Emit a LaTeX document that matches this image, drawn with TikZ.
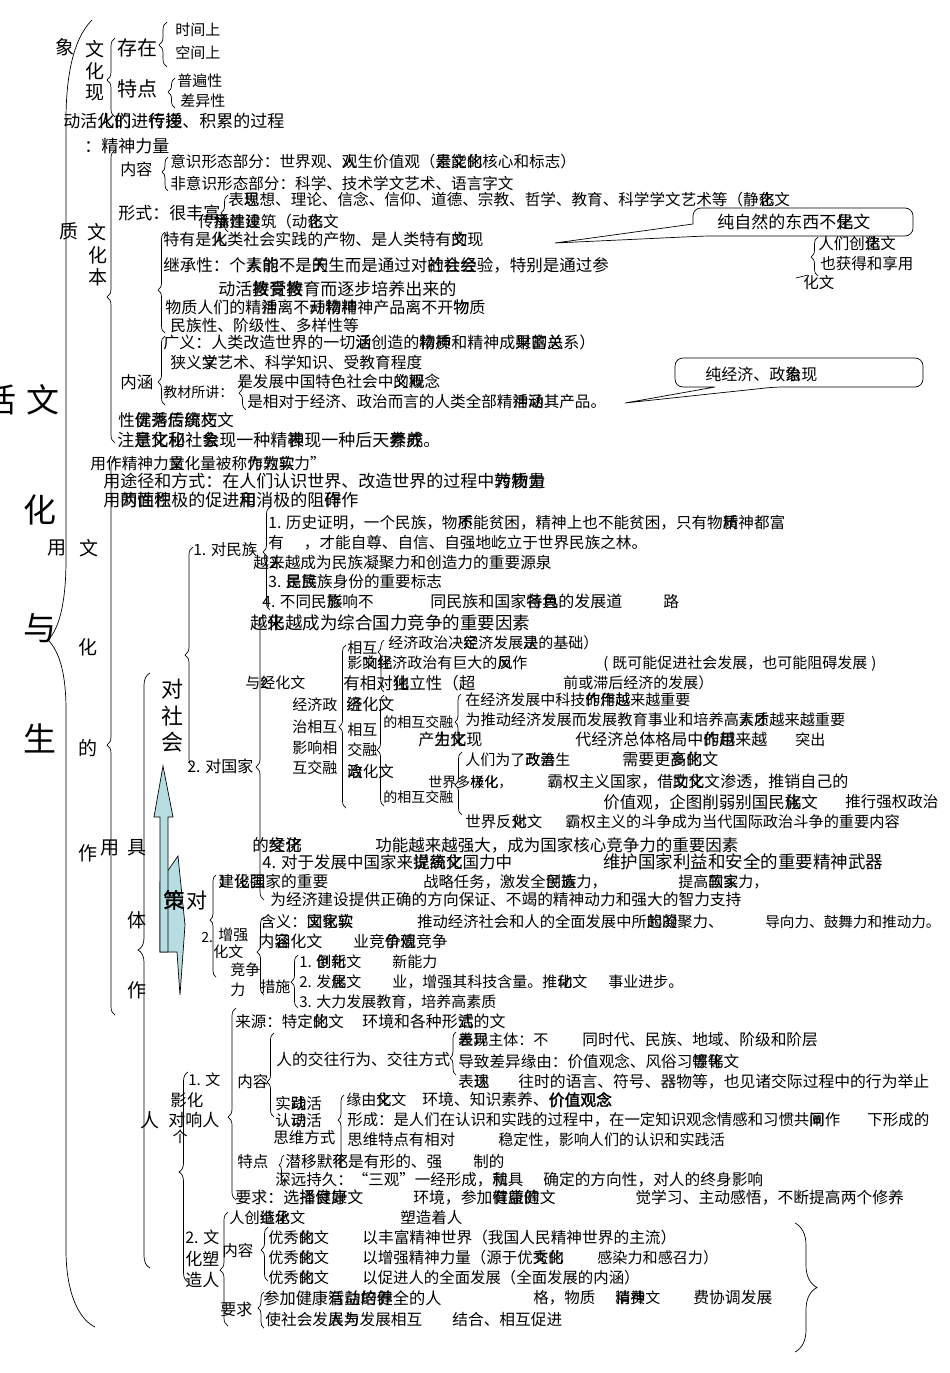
\documentclass[tikz,border=0pt]{standalone}
\usepackage{fontspec}
\setmainfont{Noto Sans CJK SC}
\newfontfamily\bfk[FakeBold=2]{Noto Sans CJK SC}
\usetikzlibrary{decorations.pathreplacing}
\definecolor{lblue}{RGB}{182,221,226}
\newcommand\ovl[2]{\makebox[0pt][l]{#1}#2}
\newcommand\tx[5]{\node[anchor=base west,inner sep=0pt,font=\fontsize{#4}{#4}\selectfont] (#1) at (#2,{#3+0.37*#4}) {#5};}
\newcommand\cx[5]{\node[anchor=center,inner sep=0pt,font=\fontsize{#4}{#4}\selectfont] (#1) at (#2,#3) {#5};}
\newcommand\LB[5]{\pgfmathsetmacro\asp{(#3-#4)/(#3-#2)}\draw[line width=0.7pt,decorate,decoration={brace,amplitude=#5pt,aspect=\asp}] (#1,#3) -- (#1,#2);}
\begin{document}
\begin{tikzpicture}[x=1pt,y=-1pt,line width=0.7pt]
\fill[white] (0,0) rectangle (950,1373);
\useasboundingbox (0,0) rectangle (950,1373);
% big left bracket
\draw (92,20) .. controls (72,40) and (66,80) .. (66,120) -- (66,560) .. controls (66,600) and (60,628) .. (48,640) .. controls (60,652) and (66,675) .. (66,710) -- (66,1250) .. controls (66,1295) and (80,1320) .. (95,1327);
% braces
\LB{167}{22}{67}{45}{8}
\LB{175}{78}{108}{92}{7}
\LB{115}{38}{117}{80}{8}
\LB{168}{157}{191}{172}{6}
\LB{228}{195}{232}{213}{7}
\LB{165}{232}{333}{290}{7}
\LB{165}{336}{405}{382}{7}
\LB{246}{375}{410}{393}{7}
\LB{115}{150}{443}{297}{8}
\LB{818}{237}{276}{257}{7}
\draw (796,278) -- (808,275);
\LB{115}{460}{1015}{745}{8}
\LB{270}{507}{610}{552}{7}
\LB{193}{547}{767}{655}{8}
\LB{264}{615}{900}{767}{8}
\LB{346}{645}{808}{727}{7}
\LB{384}{640}{692}{652}{6}
\LB{384}{695}{806}{750}{7}
\LB{461}{694}{746}{722}{6}
\LB{462}{752}{815}{785}{7}
\LB{150}{673}{1268}{950}{12}
\LB{216}{875}{977}{920}{6}
\LB{264}{917}{995}{952}{7}
\LB{298}{955}{1008}{982}{7}
\LB{236}{1008}{1200}{1117}{8}
\LB{274}{1033}{1117}{1082}{7}
\LB{456}{1032}{1075}{1058}{6}
\LB{344}{1095}{1158}{1120}{6}
\LB{284}{1155}{1186}{1165}{5}
\LB{188}{1072}{1282}{1172}{9}
\LB{228}{1212}{1326}{1270}{8}
\LB{268}{1227}{1281}{1250}{7}
\LB{264}{1292}{1328}{1308}{6}
\draw[decorate,decoration={brace,amplitude=22pt}] (795,1223) -- (795,1352);
% callouts
\draw[fill=white] (555,243) -- (693,224) [rounded corners=8pt] -- (693,208) -- (913,208) -- (913,236) -- (705,236) [sharp corners] -- cycle;
\draw[fill=white] (625,403) -- (715,387) [rounded corners=8pt] -- (675,387) -- (675,358) -- (923,358) -- (923,387) -- (775,387) [sharp corners] -- cycle;
% blue arrows
\draw[fill=lblue] (160,882) -- (178,856) -- (185,925) -- (180,995) -- (177,952) -- (160,952) -- cycle;
\draw[fill=lblue] (163,766) -- (173,817) -- (168,817) -- (168,952) -- (160,952) -- (160,817) -- (154,817) -- cycle;
% top
\cx{xiang}{65}{47}{19}{象}
\cx{wa}{95}{49}{19}{文}
\cx{wb}{95}{71}{19}{化}
\cx{wc}{95}{93}{19}{现}
\tx{cz}{117}{48}{20}{存在}
\tx{sj}{175}{30}{15}{时间上}
\tx{kj}{175}{53}{15}{空间上}
\tx{td}{117}{89}{20}{特点}
\tx{pb}{177}{81}{15}{普遍性}
\tx{cy}{180}{101}{15}{差异性}
\tx{dh}{63}{121}{17}{动活\ovl{人}{化}\ovl{们}{的}进\ovl{行}{传}\ovl{递}{授}、积累的过程}
\tx{js}{84}{146}{17}{：精神力量}
\tx{nr}{120}{170}{16}{内容}
\tx{ys}{170}{162}{15.6}{意识形态部分：世界观、\ovl{人}{观}生价值观（\ovl{素}{是}\ovl{能}{文}\ovl{的}{化}核心和标志）}
\tx{fys}{170}{184}{15.6}{非意识形态部分：科学、技术学文艺术、语言字文}
\tx{xs}{118}{213}{17}{形式：很丰富}
\tx{bx}{228}{200}{15.6}{表\ovl{现}{思}想、理论、信念、信仰、道德、宗教、哲学、教育、科学学文艺术等（静\ovl{态}{化}文}
\tx{cc}{198}{222}{15.6}{传\ovl{承}{播}\ovl{建}{性}\ovl{设}{建}筑（动\ovl{态}{化}文}
\tx{c1t}{717}{222}{17}{纯自然的东西不\ovl{是}{化}文}
\tx{rm}{818}{244}{15.5}{人们创\ovl{造}{化}文}
\tx{yh}{820}{264}{15.5}{也获得和享用}
\tx{hw}{803}{283}{15.5}{化文}
% block 2
\cx{zhi}{69}{231}{19}{质}
\cx{wd}{97}{232}{19}{文}
\cx{we}{98}{255}{19}{化}
\cx{wf}{98}{277}{19}{本}
\tx{ty}{163}{240}{16}{特有是\ovl{人}{化}类社会实践的产物、是人类特有\ovl{的}{文}现}
\tx{jc}{163}{265}{16.5}{继承性：个\ovl{素}{人}\ovl{能}{的}不是\ovl{天}{的}生而是通过对\ovl{的}{社}\ovl{社}{会}\ovl{会}{经}验，特别是通过参}
\tx{dh2}{218}{289}{17}{动活\ovl{接}{教}\ovl{受}{育}\ovl{教}{接}育而逐步培养出来的}
\tx{wz}{165}{308}{16}{物质人们的精\ovl{神}{活}离不\ovl{开}{动}\ovl{物}{精}\ovl{精}{神}神产品离不开\ovl{物}{物}质}
\tx{mz}{170}{326}{15.7}{民族性、阶级性、多样性等}
\tx{gy}{163}{343}{16}{广义：人类改造世界的一切\ovl{活}{涵}创造的\ovl{物}{精}\ovl{质}{神}和精神成\ovl{果}{财}\ovl{的}{富}\ovl{关}{总}系）}
\tx{xy}{170}{363}{15.75}{狭义\ovl{文}{学}艺术、科学知识、受教育程度}
\tx{nh}{120}{382}{16.5}{内涵}
\tx{jcsj}{163}{392}{14}{教材所讲：}
\tx{sfz}{237}{382}{15.6}{是发展中国特色社会中\ovl{的}{义}\ovl{概}{观}念}
\tx{sxd}{247}{402}{15.6}{是相对于经济、政治而言的人类全部精\ovl{神}{活}\ovl{动}{涵}其产品。}
\tx{c2t}{705}{375}{16}{纯经济、政\ovl{治}{象}现}
\tx{xyx}{118}{420}{16.5}{性\ovl{优}{健}\ovl{秀}{落}\ovl{传}{后}\ovl{统}{腐}\ovl{文}{朽}文}
\tx{zy}{117}{440}{17}{注\ovl{意}{是}\ovl{化}{文}\ovl{和}{秘}社\ovl{会}{象}现一种精\ovl{神}{表}现一种后天\ovl{素}{养}\ovl{养}{成}。}
% block 3
\tx{yz}{90}{464}{15.7}{用作精神力\ovl{量}{文}化量被称\ovl{为}{作}\ovl{软}{为}\ovl{实}{软}力”}
\tx{ytj}{103}{481}{17}{用途径和方式：在人们认识世界、改造世界的过程中\ovl{转}{为}\ovl{物}{质}\ovl{力}{量}}
\tx{ydx}{103}{500}{17}{用\ovl{的}{两}\ovl{性}{面}\ovl{积}{性}极的促进\ovl{和}{用}消极的阻\ovl{碍}{作}作}
\tx{dmz}{193}{550}{15.5}{1. 对民族}
\tx{ls}{268}{523}{15.6}{1. 历史证明，一个民族，物\ovl{质}{不}能贫困，精神上也不能贫困，只有物\ovl{质}{精}神都富}
\tx{yo}{268}{543}{15.6}{有\hspace{20pt}，才能自尊、自信、自强地屹立于世界民族之林。}
\tx{yl}{253}{563}{15.7}{越\ovl{2.}{来}越成为民族凝聚力和创造力的重要源泉}
\tx{sm}{268}{582}{15.6}{3. \ovl{是}{民}\ovl{民}{族}族身份的重要标志}
\tx{bt}{262}{602}{15.6}{4. 不同民\ovl{族}{影}响不}
\tx{tm}{430}{602}{16}{同民族和国家\ovl{各}{特}\ovl{具}{色}的发展道}
\tx{lu}{663}{602}{15.6}{路}
\tx{zh}{250}{623}{17.5}{越\ovl{来}{化}越成为综合国力竞争的重要因素}
% left column
\cx{huo}{0}{400}{33}{活}
\cx{wg}{43}{400}{33}{文}
\cx{hua}{40}{510}{33}{化}
\cx{yu}{40}{628}{33}{与}
\cx{sheng}{40}{738}{33}{生}
\cx{yong}{57}{548}{19}{用}
\cx{wh}{89}{548}{19}{文}
\cx{wi}{88}{647}{19}{化}
\cx{de}{88}{748}{19}{的}
\cx{zuo}{88}{853}{19}{作}
\cx{yong2}{110}{848}{19}{用}
\cx{ju}{137}{848}{19}{具}
\cx{ti}{137}{920}{19}{体}
\cx{zuo2}{137}{990}{19}{作}
\cx{ren}{150}{1120}{19}{人}
\cx{d1}{172}{689}{22}{对}
\cx{d2}{172}{716}{22}{社}
\cx{d3}{172}{742}{22}{会}
% nation
\tx{dgj}{187}{767}{16}{2. 对国家}
\tx{yjj}{245}{683}{15}{与\ovl{2}{经}化文}
\tx{jjz}{292}{705}{15}{经济政}
\tx{zxh}{292}{727}{15}{治相互}
\tx{yxx}{292}{748}{15}{影响相}
\tx{hjr}{292}{768}{15}{互交融}
\tx{xh1}{347}{648}{15}{相互}
\tx{jjjd}{388}{643}{15}{经济政治决\ovl{定}{经}济发展\ovl{是}{决}的基础）}
\tx{yxjj}{347}{663}{15}{影\ovl{响}{文}\ovl{化}{经}济政治有巨大的\ovl{反}{风}作}
\tx{jkn}{603}{663}{15}{(\hspace{4pt}既可能促进社会发展，也可能阻碍发展\hspace{4pt})}
\tx{ydl}{343}{683}{16.5}{有相对\ovl{独}{化}立性（超}
\tx{qhz}{563}{683}{15}{前或滞后经济的发展）}
\tx{jhw}{346}{705}{16}{\ovl{经}{济}化文}
\tx{dxj1}{383}{722}{14}{的相互交融}
\tx{xh2}{347}{730}{15}{相互}
\tx{jr}{347}{750}{15}{交融}
\tx{zhw}{347}{772}{15.5}{\ovl{政}{治}化文}
\tx{dxj2}{383}{797}{14}{的相互交融}
\tx{kj1}{465}{700}{15}{在经济发展中科技\ovl{的}{作}\ovl{作}{用}\ovl{越}{越}来越重要}
\tx{tj}{465}{720}{15.2}{为推动经济发展而发展教育事业和培养高\ovl{素}{人}\ovl{质}{才}越来越重要}
\tx{csh}{418}{740}{16}{产\ovl{生}{力}\ovl{化}{文}现}
\tx{djj}{575}{740}{16}{代经济总体格局中\ovl{的}{作}\ovl{越}{用}来越}
\tx{tc}{795}{740}{15}{突出}
\tx{rmw}{465}{760}{15}{人们为了\ovl{改}{政}\ovl{善}{治}生}
\tx{xy2}{622}{760}{16}{需要更\ovl{高}{多}\ovl{的}{化}文}
\tx{sjd}{428}{782}{14}{世界多\ovl{极}{样}\ovl{化}{化}，}
\tx{bq}{547}{782}{15.7}{霸权主义国家，借\ovl{助}{文}\ovl{文}{化}文}
\tx{st}{720}{782}{16}{渗透，推销自己的}
\tx{jzg}{603}{802}{16.5}{价值观，企图削弱别国民\ovl{族}{化}文}
\tx{txq}{845}{802}{15.5}{推行强权政治}
\tx{sjf}{465}{822}{15.4}{世界反\ovl{对}{化}文}
\tx{bqz}{565}{822}{15.2}{霸权主义的斗争成为当代国际政治斗争的重要内容}
\tx{djw}{252}{845}{16.5}{的\ovl{经}{文}\ovl{济}{化}}
\tx{gn}{375}{845}{16.5}{功能越来越强大，成为国家核心竞争力的重要因素}
\tx{dyf}{262}{862}{16.5}{4. 对于发展中国家来\ovl{说}{提}\ovl{高}{统}\ovl{文}{化}国力中}
\tx{whg}{603}{862}{17.5}{维护国家利益和安全的重要精神武器}
% strategy
\cx{ce}{174}{900}{21}{{\bfk 策}}
\cx{dui2}{197}{900}{21}{对}
\tx{js1}{218}{882}{15.7}{\ovl{1}{建}\ovl{设}{化}\ovl{强}{国}家的重要}
\tx{zl}{423}{882}{15.3}{战略任务，激发全\ovl{民}{创}\ovl{族}{造}力，}
\tx{tg}{678}{882}{15}{提高\ovl{国}{软}\ovl{家}{实}力，}
\tx{wjj}{270}{900}{15.7}{为经济建设提供正确的方向保证、不竭的精神动力和强大的智力支持}
\tx{hy}{260}{922}{15.5}{含义：\ovl{国}{文}\ovl{家}{化}\ovl{软}{实}}
\tx{td2}{417}{922}{15.3}{推动经济社会和人的全面发展中所\ovl{起}{的}\ovl{的}{凝}聚力、}
\tx{dx}{765}{922}{14.6}{导向力、鼓舞力和推动力。}
\tx{nrh}{258}{942}{16}{内\ovl{容}{涵}化文}
\tx{yjz}{353}{942}{15.7}{业竞\ovl{价}{争}\ovl{值}{观}竞争}
\tx{two}{201}{937}{14}{2.}
\tx{zq}{218}{935}{15}{增强}
\tx{hw2}{213}{952}{15}{化文}
\tx{jz}{230}{970}{15}{竞争}
\tx{li}{230}{990}{15}{力}
\tx{cs}{260}{987}{15}{措施}
\tx{cx1}{299}{962}{15}{1. \ovl{创}{倒}\ovl{新}{化}文}
\tx{xnl}{392}{962}{15}{新能力}
\tx{fz}{299}{982}{15}{2. 发\ovl{展}{化}文}
\tx{yzq}{392}{982}{15}{业，增强其科技含量。推\ovl{动}{化}文}
\tx{sy}{608}{982}{15}{事业进步。}
\tx{dlf}{299}{1002}{15}{3. 大力发展教育，培养高素质}
% individual
\tx{ly}{235}{1022}{15.5}{来源：特定\ovl{的}{化}文}
\tx{hjh}{362}{1022}{15.9}{环境和各种形\ovl{式}{活}的文}
\tx{nr2}{237}{1082}{15.5}{内容}
\tx{rdj}{276}{1060}{15.8}{人的交往行为、交往方式}
\tx{cyz}{458}{1040}{15}{\ovl{差}{表}\ovl{异}{现}主体：不}
\tx{tsd}{582}{1040}{15.7}{同时代、民族、地域、阶级和阶层}
\tx{dzc}{458}{1062}{15.6}{导致差异缘由：价值观念、风俗习\ovl{惯}{等}\ovl{等}{化}文}
\tx{bxx}{458}{1082}{15.5}{表\ovl{现}{达}}
\tx{wsd}{518}{1082}{15.8}{往时的语言、符号、器物等，也见诸交际过程中的行为举止}
\tx{sjh}{275}{1104}{15.5}{实\ovl{践}{动}活}
\tx{rsh}{275}{1121}{15.5}{认\ovl{识}{动}活}
\tx{swfs}{273}{1138}{15.5}{思维方式}
\tx{yyh}{346}{1100}{15}{缘由\ovl{化}{文}文}
\tx{hjz}{422}{1100}{15.8}{环境、知识素养、{\bfk 价值观念}}
\tx{xc}{347}{1120}{15.4}{形成：是人们在认识和实践的过程中，在一定知识观念情感和习惯共\ovl{同}{阐}作}
\tx{xxc}{867}{1120}{15.5}{下形成的}
\tx{swtd}{347}{1140}{15.4}{思维特点有相对}
\tx{wdx}{498}{1140}{15.1}{稳定性，影响人们的认识和实践活}
\tx{td3}{237}{1162}{15.5}{特点}
\tx{qym}{285}{1162}{15.7}{潜移默\ovl{化}{不}是有形的、强}
\tx{zd}{473}{1162}{15.5}{制的}
\tx{sycj}{275}{1180}{15.5}{深远持久：“三观”一经形成，\ovl{就}{和}具}
\tx{qdd}{543}{1180}{15.7}{确定的方向性，对人的终身影响}
\tx{yqx}{235}{1198}{16}{要求：选\ovl{择}{播}\ovl{健}{良}\ovl{康}{好}文}
\tx{hjc}{413}{1198}{15.8}{环境，参加\ovl{健}{有}\ovl{康}{益}\ovl{的}{健}文}
\tx{jxx}{635}{1198}{15.8}{觉学习、主动感悟，不断提高两个修养}
\tx{one}{188}{1080}{15}{1. 文}
\tx{yh2}{170}{1100}{16.5}{影化}
\tx{dxr}{168}{1120}{17}{对响人}
\cx{ge}{180}{1137}{15}{个}
\tx{rcz}{229}{1218}{15.2}{人创\ovl{造}{继}\ovl{化}{承}文}
\tx{szr}{400}{1218}{15.5}{塑造着人}
\tx{nr3}{222}{1251}{15.5}{内容}
\tx{yx1}{268}{1238}{15.2}{优秀\ovl{的}{化}文}
\tx{yfj}{362}{1238}{15.7}{以丰富精神世界（我国人民精神世界的主流）}
\tx{yx2}{268}{1258}{15.2}{优秀\ovl{的}{化}文}
\tx{yzj}{362}{1258}{15.5}{以增强精神力量（源于优\ovl{秀}{文}\ovl{的}{化}}
\tx{grl}{597}{1258}{15.1}{感染力和感召力）}
\tx{yx3}{268}{1278}{15.2}{优秀\ovl{的}{化}文}
\tx{ycj}{362}{1278}{15.4}{以促进人的全面发展（全面发展的内涵）}
\tx{two2}{185}{1238}{16}{2. 文}
\tx{hs}{185}{1259}{17}{化塑}
\tx{zr}{185}{1280}{17}{造人}
\tx{yq2}{220}{1310}{16}{要求}
\tx{cjj}{263}{1298}{16.2}{参加健康\ovl{活}{有}\ovl{动}{益}\ovl{培}{的}\ovl{养}{健}全的人}
\tx{gwz}{533}{1298}{15.5}{格，物质}
\tx{xfw}{615}{1298}{15}{\ovl{消}{精}\ovl{费}{神}文}
\tx{fxt}{693}{1298}{15.8}{费协调发展}
\tx{shf}{265}{1320}{15.7}{使社会发\ovl{展}{人}\ovl{与}{为}发展相互}
\tx{jh}{452}{1320}{15.7}{结合、相互促进}
\end{tikzpicture}
\end{document}
